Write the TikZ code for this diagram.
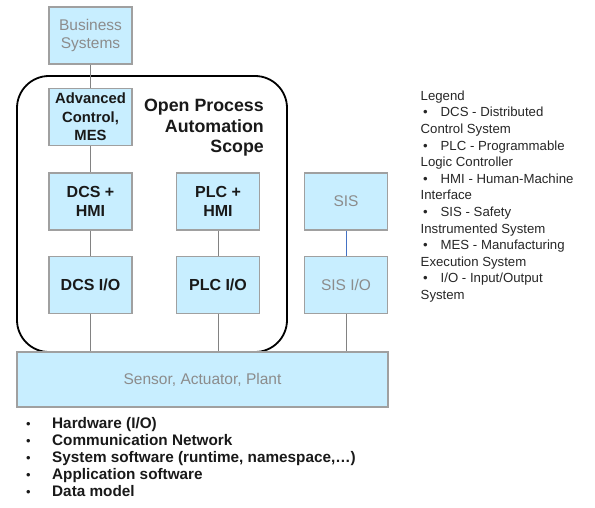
\documentclass[tikz,border=0pt]{standalone}
\usepackage{fontspec}
\setmainfont{Liberation Sans}
\definecolor{boxfill}{RGB}{200,238,255}
\definecolor{boxdraw}{RGB}{160,160,160}
\definecolor{graytext}{RGB}{140,140,140}
\definecolor{conn}{RGB}{130,130,130}
\definecolor{sisconn}{RGB}{68,114,196}
\tikzset{
  blk/.style={draw=boxdraw, line width=1.1pt, fill=boxfill, minimum width=83pt, minimum height=57pt, inner sep=0pt, align=center},
  boldblk/.style={blk, text=black!90, font=\fontsize{16}{18.5}\selectfont\bfseries},
  grayblk/.style={blk, text=graytext, font=\fontsize{15.5}{17.5}\selectfont},
  link/.style={draw=conn, line width=0.9pt},
  scopebox/.style={draw=black, line width=1.8pt, rounded corners=32pt}
}
\begin{document}
\begin{tikzpicture}[x=1pt,y=-1pt]
\useasboundingbox (0,0) rectangle (595,508);
% scope frame
\draw[scopebox] (17,76) rectangle (287,352);
\node[anchor=north east, align=right, inner sep=0pt, text=black!90, font=\fontsize{17.8}{20.5}\selectfont\bfseries] (scopetitle) at (264,99) {Open Process\\Automation\\Scope};
% nodes
\node[grayblk] (bus) at (90.5,35.5) {Business\\Systems};
\node[boldblk, font=\fontsize{14.8}{18.3}\selectfont\bfseries] (adv) at (90.5,117) {Advanced\\Control,\\MES};
\node[boldblk] (dcshmi) at (90.5,201.5) {DCS +\\HMI};
\node[boldblk] (plchmi) at (218,201.5) {PLC +\\HMI};
\node[grayblk] (sis) at (346,201.5) {SIS};
\node[boldblk] (dcsio) at (90.5,285) {DCS I/O};
\node[boldblk] (plcio) at (218,285) {PLC I/O};
\node[grayblk] (sisio) at (346,285) {SIS I/O};
\node[grayblk, minimum width=371pt, minimum height=55pt] (plant) at (202.5,379.5) {Sensor, Actuator, Plant};
% connectors
\draw[link] (bus) -- (adv);
\draw[link] (adv) -- (dcshmi);
\draw[link] (dcshmi) -- (dcsio);
\draw[link] (plchmi) -- (plcio);
\draw[link, draw=sisconn] (sis) -- (sisio);
\draw[link] (dcsio.south) -- (dcsio.south |- plant.north);
\draw[link] (plcio.south) -- (plcio.south |- plant.north);
\draw[link] (sisio.south) -- (sisio.south |- plant.north);
% legend
\node[anchor=north west, align=left, inner sep=0pt, text=black!85, font=\fontsize{13.2}{16.6}\selectfont] (legend) at (420.5,90.5) {Legend\\
\makebox[20pt][l]{\hspace{2.5pt}•}DCS - Distributed\\Control System\\
\makebox[20pt][l]{\hspace{2.5pt}•}PLC - Programmable\\Logic Controller\\
\makebox[20pt][l]{\hspace{2.5pt}•}HMI - Human-Machine\\Interface\\
\makebox[20pt][l]{\hspace{2.5pt}•}SIS - Safety\\Instrumented System\\
\makebox[20pt][l]{\hspace{2.5pt}•}MES - Manufacturing\\Execution System\\
\makebox[20pt][l]{\hspace{2.5pt}•}I/O - Input/Output\\System};
% bottom list
\node[anchor=north west, align=left, inner sep=0pt, text=black!90, font=\fontsize{15.3}{17}\selectfont\bfseries] (features) at (26,417) {%
\makebox[26pt][l]{\mdseries\fontsize{13}{17}\selectfont•}Hardware (I/O)\\
\makebox[26pt][l]{\mdseries\fontsize{13}{17}\selectfont•}Communication Network\\
\makebox[26pt][l]{\mdseries\fontsize{13}{17}\selectfont•}System software (runtime, namespace,…)\\
\makebox[26pt][l]{\mdseries\fontsize{13}{17}\selectfont•}Application software\\
\makebox[26pt][l]{\mdseries\fontsize{13}{17}\selectfont•}Data model};
\end{tikzpicture}
\end{document}
